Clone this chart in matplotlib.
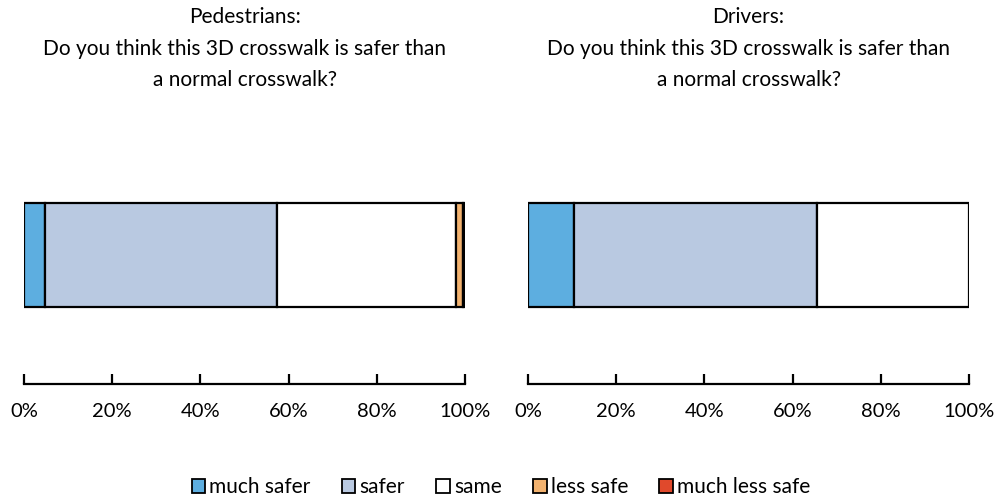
import numpy as np
import matplotlib.pyplot as plt
from matplotlib.patches import Patch

plt.rcParams['font.family'] = ['Lato', 'DejaVu Sans']

categories = ["much safer", "safer", "same", "less safe", "much less safe"]
colors = ["#5DAEE0", "#B9C9E1", "#FFFFFF", "#F2B26F", "#E0492C"]
pedestrians = [4.8, 52.6, 40.5, 1.6, 0.5]
drivers = [10.4, 55.1, 34.5, 0.0, 0.0]
titles = ["Pedestrians:\nDo you think this 3D crosswalk is safer than\na normal crosswalk?",
          "Drivers:\nDo you think this 3D crosswalk is safer than\na normal crosswalk?"]
ticks = [0, 20, 40, 60, 80, 100]
tick_labels = ["0%", "20%", "40%", "60%", "80%", "100%"]

fig = plt.figure(figsize=(9.96, 4.98), dpi=100)
W, H = 996, 498
lefts = [24, 528]
for i, (vals, title) in enumerate(zip([pedestrians, drivers], titles)):
    ax = fig.add_axes([lefts[i] / W, 1 - 384 / H, 441 / W, 234 / H])
    start = 0
    for v, c in zip(vals, colors):
        if v > 0:
            ax.barh(0, v, left=start, height=0.8, color=c, edgecolor='black', linewidth=1.6)
        start += v
    ax.set_xlim(0, 100)
    ax.set_ylim(-0.992, 0.808)
    for s in ['top', 'left', 'right']:
        ax.spines[s].set_visible(False)
    ax.spines['bottom'].set_linewidth(1.6)
    ax.set_yticks([])
    ax.set_xticks(ticks)
    ax.set_xticklabels(tick_labels, fontsize=14.5)
    ax.tick_params(axis='x', direction='in', length=7, width=1.6, pad=14)
    fig.text((lefts[i] + 220.5) / W, 1 - 7 / H, title, ha='center', va='top',
             fontsize=15, linespacing=1.72)

handles = [Patch(facecolor=c, edgecolor='black', linewidth=1.3) for c in colors]
fig.legend(handles, categories, loc='center', bbox_to_anchor=(0.503, 1 - 487 / H),
           ncol=5, frameon=False, fontsize=15, handlelength=0.65, handleheight=0.65,
           handletextpad=0.2, columnspacing=1.5)

fig.savefig("out.png", dpi=100)
